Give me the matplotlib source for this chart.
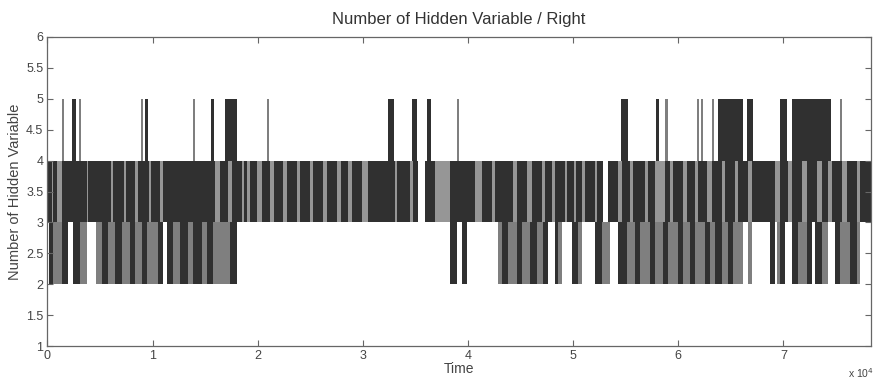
import matplotlib
matplotlib.use('Agg')
import matplotlib.pyplot as plt
from matplotlib.ticker import FuncFormatter

plt.rcParams['font.family'] = ['Liberation Sans', 'DejaVu Sans']

# time values are in samples, axis is shown in units of 1e4
t_max = 78300

# periods where the state switches between 3 and 4
band34 = [(0, 35200), (35900, 52800), (53300, 78300)]

# sparser parts of the 3-4 band (show up as lighter stripes)
light34 = [(428, 570), (903, 1378), (3755, 3897), (6084, 6226), (7320, 7462),
           (8318, 8603), (9696, 9839), (10694, 10979), (15922, 16398),
           (17158, 17538), (18489, 18679), (18964, 19250), (19915, 20390),
           (21151, 21531), (22386, 22767), (23717, 24002), (24953, 25238),
           (26189, 26569), (27520, 27900), (28565, 28946), (29896, 30466),
           (33033, 33224), (34459, 34744), (36836, 38262), (40638, 41304),
           (42254, 42539), (44250, 44631), (45580, 46056), (47007, 47292),
           (47958, 48243), (49194, 49384), (50049, 50239), (50810, 51095),
           (52046, 52236), (54231, 54612), (55373, 55657), (56799, 57083),
           (57749, 58700), (59175, 59460), (60411, 60791), (61551, 61836),
           (62692, 63167), (64118, 64403), (65354, 65639), (66587, 66974),
           (69156, 69631), (70391, 70772), (71722, 72198), (73148, 73624),
           (74194, 74574), (75525, 76003), (76950, 77235)]

# excursions up to 5 hidden variables (d = dense, g = single switch)
up_start = [1426, 2377, 2994, 8936, 9268, 13831, 15590, 16873, 20866, 32368,
            34700, 36075, 38975, 54517, 57844, 58700, 61742, 62169, 63215,
            63738, 66495, 69631, 70772, 75335]
up_end = [1616, 2757, 3185, 9126, 9601, 14021, 15875, 18014, 21056, 32938,
          35150, 36456, 39165, 55182, 58129, 58985, 61932, 62359, 63405,
          66114, 67065, 70297, 74480, 75525]
up_tone = ['g', 'd', 'g', 'g', 'd', 'g', 'd', 'd', 'g', 'd',
           'd', 'd', 'g', 'd', 'd', 'g', 'g', 'g', 'g',
           'd', 'd', 'd', 'd', 'g']

# excursions down to 2 hidden variables
down_start = [143, 523, 1378, 2424, 3089, 4610, 5181, 5751, 6417, 7082, 7842,
              8318, 8983, 9458, 10504, 11360, 11930, 12595, 13356, 13831,
              14687, 15162, 15732, 17348,
              38262, 39403, 42824, 43205, 43775, 44631, 45106, 45866, 46532,
              47102, 48243, 48528, 49859, 50429, 52046, 52711, 54231, 55088,
              55848, 56323, 57274, 57749, 58510, 58985, 59935, 60411, 61076,
              61551, 62502, 62977, 63453, 64118, 64689, 65164, 66587, 68680,
              69346, 69631, 70772, 71342, 72198, 72958, 73624, 74860, 75335,
              76285, 76950]
down_end = [523, 1378, 1949, 3089, 3755, 5181, 5751, 6417, 7082, 7842, 8318,
            8983, 9458, 10504, 10979, 11930, 12595, 13356, 13831, 14687,
            15162, 15732, 17348, 18014,
            38927, 39878, 43205, 43775, 44631, 45106, 45866, 46532, 47102,
            47577, 48528, 48908, 50429, 50810, 52711, 53471, 55088, 55848,
            56323, 57274, 57749, 58510, 58985, 59935, 60411, 61076, 61551,
            62502, 62977, 63453, 64118, 64689, 65164, 66114, 66974, 69156,
            69631, 70106, 71342, 72198, 72673, 73624, 74194, 75335, 76285,
            76950, 77235]
down_tone = ['d', 'g', 'd', 'd', 'g', 'g', 'd', 'g', 'd', 'g', 'd',
             'g', 'd', 'g', 'd', 'd', 'g', 'd', 'g', 'd',
             'g', 'd', 'g', 'd',
             'd', 'd', 'g', 'd', 'g', 'd', 'g', 'd', 'g',
             'd', 'd', 'g', 'd', 'g', 'd', 'g', 'd', 'g',
             'd', 'g', 'd', 'g', 'd', 'g', 'd', 'g', 'd',
             'g', 'd', 'g', 'd', 'g', 'd', 'g', 'g', 'd',
             'g', 'd', 'd', 'g', 'd', 'd', 'g', 'd', 'g',
             'd', 'g']

dark = '#303030'
grey = '#7f7f7f'
light = '#969696'
tones = {'d': dark, 'g': grey}
scale = 1e4

fig = plt.figure(figsize=(8.73, 3.83), dpi=100)
ax = fig.add_axes([0.0544, 0.0966, 0.943, 0.8068])


def bars(starts, ends):
    return [(s / scale, (e - s) / scale) for s, e in zip(starts, ends)]


ax.broken_barh(bars([b[0] for b in band34], [b[1] for b in band34]), (3, 1),
               facecolors=dark, linewidth=0)
ax.broken_barh(bars([b[0] for b in light34], [b[1] for b in light34]), (3, 1),
               facecolors=light, linewidth=0)
ax.broken_barh(bars(up_start, up_end), (4, 1),
               facecolors=[tones[c] for c in up_tone], linewidth=0)
ax.broken_barh(bars(down_start, down_end), (2, 1),
               facecolors=[tones[c] for c in down_tone], linewidth=0)

ax.set_xlim(0, t_max / scale)
ax.set_ylim(1, 6)
ax.set_xticks(range(0, 8))
ax.set_yticks([1, 1.5, 2, 2.5, 3, 3.5, 4, 4.5, 5, 5.5, 6])
ax.yaxis.set_major_formatter(FuncFormatter(lambda v, p: '%g' % v))

for s in ax.spines.values():
    s.set_color('#666666')
    s.set_linewidth(0.9)
ax.tick_params(direction='in', top=True, right=True, length=4, width=0.8,
               color='#666666', labelsize=9, labelcolor='#444444', pad=3)

ax.set_title('Number of Hidden Variable / Right', fontsize=12, color='#333333', pad=9)
ax.set_xlabel('Time', fontsize=10, color='#444444', labelpad=0)
ax.set_ylabel('Number of Hidden Variable', fontsize=10.5, color='#444444', labelpad=3)
fig.text(0.971, 0.012, 'x 10$^4$', fontsize=7.5, color='#444444')

fig.savefig('out.png', dpi=100)
